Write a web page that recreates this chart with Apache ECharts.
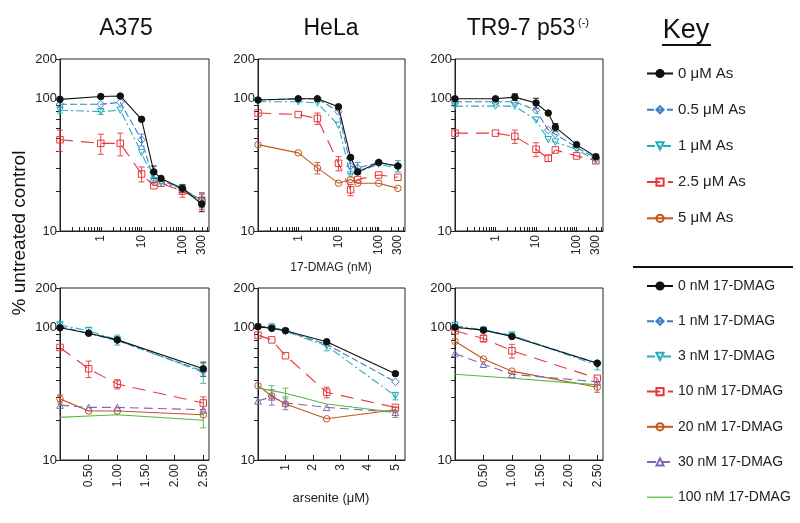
<!DOCTYPE html>
<html>
<head>
<meta charset="utf-8">
<script src="https://cdn.jsdelivr.net/npm/echarts@6/dist/echarts.min.js"></script>
<style>html,body{margin:0;padding:0;background:#fff}#c{width:800px;height:523px}</style>
</head>
<body>
<div id="c"></div>
<script>
// ---------- DATA ----------
// Top row: x = 17-DMAG (nM); 0 nM is plotted at 0.1 on the log axis
const topX = [0.1, 1, 3, 10, 20, 30, 100, 300];
const topNames = ['0 μM As', '0.5 μM As', '1 μM As', '2.5 μM As', '5 μM As'];
const A375_top_0   = [99, 104, 105, 70, 28, 25, 21, 16];
const A375_top_05  = [91, 91, 94, 49, 24, 24, 21, 17];
const A375_top_1   = [82, 80, 82, 39, 24, 23, 21, 17];
const A375_top_25  = [49, 46, 46, 27, 22, 23, 20, 17];
const HeLa_top_0   = [98, 100, 100, 87, 36, 28, 33, 31];
const HeLa_top_05  = [98, 100, 100, 80, 31, 30, 33, 31];
const HeLa_top_1   = [95, 95, 93, 63, 26.5, 28, 32, 30];
const HeLa_top_25  = [78, 76, 71, 32.5, 20.5, 24.5, 26.5, 25.5];
const HeLa_top_5   = [45, 39, 30, 23, 24.5, 23, 23, 21];
const TR_top_0     = [100, 100, 103, 93, 78, 61, 45, 36.5];
const TR_top_05    = [95, 95, 95, 82, 58, 54, 43, 35.5];
const TR_top_1     = [88, 88, 88, 69, 49, 47, 41.5, 34];
const TR_top_25    = [55, 55, 52, 41.5, 35.5, 41, 37, 34];

// error bar half-widths (estimated; 0 = not visible)
const A375_top_0_err  = [0, 0, 0, 0, 3, 0, 1.5, 2];
const A375_top_05_err = [0, 0, 0, 5, 0, 0, 0, 2];
const A375_top_1_err  = [4, 4, 0, 0, 0, 0, 0, 2];
const A375_top_25_err = [9, 8, 9, 3.5, 0, 0, 2, 2.5];
const HeLa_top_05_err = [0, 0, 0, 0, 4, 3, 0, 3];
const HeLa_top_25_err = [0, 0, 7, 4, 2, 0, 0, 0];
const HeLa_top_5_err  = [0, 0, 3, 0, 0, 0, 0, 0];
const TR_top_0_err    = [0, 0, 6, 8, 0, 4, 0, 0];
const TR_top_25_err   = [0, 0, 6, 5, 2, 0, 0, 0];

// Bottom row: x = arsenite (μM)
const botX = [0, 0.5, 1, 2.5];
const botXHeLa = [0, 0.5, 1, 2.5, 5];
const botNames = ['0 nM 17-DMAG', '1 nM 17-DMAG', '3 nM 17-DMAG', '10 nM 17-DMAG', '20 nM 17-DMAG', '30 nM 17-DMAG', '100 nM 17-DMAG'];
const A375_bot_0   = [100, 91, 81, 49];
const A375_bot_1   = [102, 91, 80, 47];
const A375_bot_3   = [105, 95, 81, 46];
const A375_bot_10  = [71, 49, 37.5, 27];
const A375_bot_20  = [29, 23.5, 23.5, 22];
const A375_bot_30  = [26, 25, 25, 24];
const A375_bot_100 = [21, 21.5, 22, 20];
const HeLa_bot_0   = [102, 99, 95, 78.5, 45];
const HeLa_bot_1   = [102, 102, 95, 75, 39];
const HeLa_bot_3   = [101, 101, 94, 73, 30.5];
const HeLa_bot_10  = [88, 81, 61.5, 32.5, 25];
const HeLa_bot_20  = [36.5, 30.5, 26.5, 20.5, 24];
const HeLa_bot_30  = [28, 30, 27, 25, 23];
const HeLa_bot_100 = [35, 33.5, 32, 26.5, 23];
const TR_bot_0     = [101, 96, 86, 54];
const TR_bot_1     = [101, 96, 87, 54];
const TR_bot_3     = [104, 96, 88, 52];
const TR_bot_10    = [95, 83, 67, 41.5];
const TR_bot_20    = [79, 58, 47, 35.5];
const TR_bot_30    = [64, 53, 44.5, 39];
const TR_bot_100   = [44.5, 43, 41.5, 37];

const A375_bot_0_err   = [0, 0, 0, 6];
const A375_bot_3_err   = [5, 6, 7, 8];
const A375_bot_10_err  = [0, 7, 3, 3];
const A375_bot_20_err  = [2, 0, 0, 0];
const A375_bot_100_err = [0, 0, 0, 2.5];
const HeLa_bot_3_err   = [0, 0, 0, 6, 2];
const HeLa_bot_10_err  = [0, 0, 0, 3, 0];
const HeLa_bot_30_err  = [0, 4, 3, 0, 2];
const HeLa_bot_100_err = [0, 3, 3, 0, 0];
const TR_bot_3_err     = [6, 0, 0, 4];
const TR_bot_10_err    = [0, 5, 8, 0];
const TR_bot_20_err    = [0, 0, 0, 3];

// Tick labels
const yLabelVals = [10, 100, 200];
const yTickVals = [10, 20, 30, 40, 50, 60, 70, 80, 90, 100, 200];
const topXLabelVals = [1, 10, 100, 300];
const topXTickVals = [0.2,0.3,0.4,0.5,0.6,0.7,0.8,0.9,1,2,3,4,5,6,7,8,9,10,20,30,40,50,60,70,80,90,100,200,300,400];
const botXLabelVals = [0.5, 1, 1.5, 2, 2.5];
const helaXLabelVals = [1, 2, 3, 4, 5];

// ---------- STYLES ----------
const FONT = 'Liberation Sans, Arial, Helvetica, sans-serif';
const CLEAR = 'rgba(255,255,255,0)';
const S = {
  k:  {color:'#111111', symbol:'circle',   fill:'#111111', dash:'solid', rot:0},
  b:  {color:'#3f7dc6', symbol:'diamond',  fill:CLEAR, dash:[7,3], rot:0},
  t:  {color:'#27aeb9', symbol:'triangle', fill:CLEAR, dash:[8,3,2,3], rot:180},
  r:  {color:'#e8363c', symbol:'rect',     fill:CLEAR, dash:[13,8], rot:0},
  o:  {color:'#c4561f', symbol:'circle',   fill:CLEAR, dash:'solid', rot:0},
  p:  {color:'#8466b6', symbol:'triangle', fill:CLEAR, dash:[9,5], rot:0},
  g:  {color:'#4fbb3e', symbol:'none',     fill:CLEAR, dash:'solid', rot:0}
};

const series = [];
function mk(name, xs, ys, st, ax, err) {
  series.push({
    name: name, type: 'line', xAxisIndex: ax, yAxisIndex: ax,
    data: xs.map((x, i) => [x, ys[i]]),
    symbol: st.symbol, symbolSize: st.symbol === 'diamond' ? 7.5 : 6.5, symbolRotate: st.rot,
    showSymbol: st.symbol !== 'none',
    lineStyle: {color: st.color, width: 1.1, type: st.dash},
    itemStyle: {color: st.fill, borderColor: st.color, borderWidth: 1},
    emphasis: {disabled: true}, silent: true, animation: false,
    z: st === S.k ? 5 : 3
  });
  if (err) {
    const d = [];
    xs.forEach((x, i) => { if (err[i] > 0) d.push([x, ys[i] - err[i], ys[i] + err[i]]); });
    series.push({
      type: 'custom', xAxisIndex: ax, yAxisIndex: ax, data: d, silent: true, animation: false, z: 2,
      renderItem: function (params, api) {
        const x = api.value(0);
        const a = api.coord([x, api.value(1)]);
        const b = api.coord([x, api.value(2)]);
        const w = 3;
        const ls = {stroke: st.color, lineWidth: 0.9};
        return {type: 'group', children: [
          {type: 'line', shape: {x1: a[0], y1: a[1], x2: b[0], y2: b[1]}, style: ls},
          {type: 'line', shape: {x1: a[0] - w, y1: a[1], x2: a[0] + w, y2: a[1]}, style: ls},
          {type: 'line', shape: {x1: b[0] - w, y1: b[1], x2: b[0] + w, y2: b[1]}, style: ls}
        ]};
      }
    });
  }
}

mk(topNames[0], topX, A375_top_0, S.k, 0, A375_top_0_err);
mk(topNames[1], topX, A375_top_05, S.b, 0, A375_top_05_err);
mk(topNames[2], topX, A375_top_1, S.t, 0, A375_top_1_err);
mk(topNames[3], topX, A375_top_25, S.r, 0, A375_top_25_err);
mk(topNames[0], topX, HeLa_top_0, S.k, 1);
mk(topNames[1], topX, HeLa_top_05, S.b, 1, HeLa_top_05_err);
mk(topNames[2], topX, HeLa_top_1, S.t, 1);
mk(topNames[3], topX, HeLa_top_25, S.r, 1, HeLa_top_25_err);
mk(topNames[4], topX, HeLa_top_5, S.o, 1, HeLa_top_5_err);
mk(topNames[0], topX, TR_top_0, S.k, 2, TR_top_0_err);
mk(topNames[1], topX, TR_top_05, S.b, 2);
mk(topNames[2], topX, TR_top_1, S.t, 2);
mk(topNames[3], topX, TR_top_25, S.r, 2, TR_top_25_err);

mk(botNames[0], botX, A375_bot_0, S.k, 3, A375_bot_0_err);
mk(botNames[1], botX, A375_bot_1, S.b, 3);
mk(botNames[2], botX, A375_bot_3, S.t, 3, A375_bot_3_err);
mk(botNames[3], botX, A375_bot_10, S.r, 3, A375_bot_10_err);
mk(botNames[4], botX, A375_bot_20, S.o, 3, A375_bot_20_err);
mk(botNames[5], botX, A375_bot_30, S.p, 3);
mk(botNames[6], botX, A375_bot_100, S.g, 3, A375_bot_100_err);
mk(botNames[0], botXHeLa, HeLa_bot_0, S.k, 4);
mk(botNames[1], botXHeLa, HeLa_bot_1, S.b, 4);
mk(botNames[2], botXHeLa, HeLa_bot_3, S.t, 4, HeLa_bot_3_err);
mk(botNames[3], botXHeLa, HeLa_bot_10, S.r, 4, HeLa_bot_10_err);
mk(botNames[4], botXHeLa, HeLa_bot_20, S.o, 4);
mk(botNames[5], botXHeLa, HeLa_bot_30, S.p, 4, HeLa_bot_30_err);
mk(botNames[6], botXHeLa, HeLa_bot_100, S.g, 4, HeLa_bot_100_err);
mk(botNames[0], botX, TR_bot_0, S.k, 5);
mk(botNames[1], botX, TR_bot_1, S.b, 5);
mk(botNames[2], botX, TR_bot_3, S.t, 5, TR_bot_3_err);
mk(botNames[3], botX, TR_bot_10, S.r, 5, TR_bot_10_err);
mk(botNames[4], botX, TR_bot_20, S.o, 5, TR_bot_20_err);
mk(botNames[5], botX, TR_bot_30, S.p, 5);
mk(botNames[6], botX, TR_bot_100, S.g, 5);

// ---------- LAYOUT ----------
const cols = [{left: 60, width: 149}, {left: 258, width: 147}, {left: 455, width: 148}];
const rows = [{top: 59, height: 172}, {top: 288, height: 172}];
const grids = [];
rows.forEach(r => cols.forEach(c => grids.push({left: c.left, top: r.top, width: c.width, height: r.height,
  show: true, borderColor: '#222', borderWidth: 1, backgroundColor: 'transparent', containLabel: false})));

const axLine = {show: true, lineStyle: {color: '#222', width: 1}};
const labelStyle = {color: '#222', fontFamily: FONT, fontSize: 12};

function yAxis(i) {
  return {gridIndex: i, type: 'log', logBase: 10, min: 10, max: 200,
    axisLine: axLine, splitLine: {show: false},
    axisTick: {show: true, inside: false, length: 4, lineStyle: {color: '#222'}, customValues: yTickVals},
    axisLabel: {margin: 3, fontSize: 13, color: '#222', fontFamily: FONT, customValues: yLabelVals}};
}
function xTop(i) {
  return {gridIndex: i, type: 'log', logBase: 10, min: 0.1, max: 450,
    axisLine: axLine, splitLine: {show: false},
    axisTick: {show: true, inside: true, length: 4, lineStyle: {color: '#222'}, customValues: topXTickVals},
    axisLabel: Object.assign({}, labelStyle, {rotate: 90, margin: 4, customValues: topXLabelVals})};
}
function xBot(i, maxV, labels, fmt) {
  return {gridIndex: i, type: 'value', min: 0, max: maxV,
    axisLine: axLine, splitLine: {show: false},
    axisTick: {show: true, inside: true, length: 5, lineStyle: {color: '#222'}, customValues: labels},
    axisLabel: Object.assign({}, labelStyle, {rotate: 90, margin: 4, customValues: labels, formatter: fmt})};
}
const f2 = v => Number(v).toFixed(2);
const f0 = v => String(Math.round(v));

const xAxes = [xTop(0), xTop(1), xTop(2),
  xBot(3, 2.6, botXLabelVals, f2), xBot(4, 5.35, helaXLabelVals, f0), xBot(5, 2.6, botXLabelVals, f2)];
const yAxes = [0,1,2,3,4,5].map(yAxis);

const legendCommon = {orient: 'vertical', left: 646, itemWidth: 26, itemHeight: 9, itemGap: 21.2,
  selectedMode: false, padding: 0, textStyle: {fontFamily: FONT, color: '#222', lineHeight: 14}};

const botLegendData = botNames.map((n, i) => i === 6
  ? {name: n, icon: 'path://M0,0L26,0L26,1.2L0,1.2Z', itemStyle: {color: S.g.color, borderWidth: 0}}
  : n);

const option = {
  animation: false,
  backgroundColor: '#ffffff',
  grid: grids,
  xAxis: xAxes,
  yAxis: yAxes,
  legend: [
    Object.assign({}, legendCommon, {top: 66, data: topNames, textStyle: Object.assign({}, legendCommon.textStyle, {fontSize: 15})}),
    Object.assign({}, legendCommon, {top: 279, data: botLegendData, textStyle: Object.assign({}, legendCommon.textStyle, {fontSize: 14})})
  ],
  graphic: [
    {type: 'text', style: {text: 'A375', x: 126, y: 40, fontSize: 23, fontFamily: FONT, fill: '#111', align: 'center', verticalAlign: 'bottom'}},
    {type: 'text', style: {text: 'HeLa', x: 331, y: 40, fontSize: 23, fontFamily: FONT, fill: '#111', align: 'center', verticalAlign: 'bottom'}},
    {type: 'text', style: {text: 'TR9-7 p53', x: 521, y: 40, fontSize: 23, fontFamily: FONT, fill: '#111', align: 'center', verticalAlign: 'bottom'}},
    {type: 'text', style: {text: '(-)', x: 578, y: 28, fontSize: 11, fontFamily: FONT, fill: '#111', align: 'left', verticalAlign: 'bottom'}},
    {type: 'text', style: {text: 'Key', x: 686, y: 44, fontSize: 27, fontFamily: FONT, fill: '#111', align: 'center', verticalAlign: 'bottom'}},
    {type: 'line', shape: {x1: 662, y1: 45, x2: 711, y2: 45}, style: {stroke: '#111', lineWidth: 2}},
    {type: 'line', shape: {x1: 633, y1: 267, x2: 793, y2: 267}, style: {stroke: '#111', lineWidth: 2}},
    {type: 'text', rotation: Math.PI / 2, x: 20, y: 233, style: {text: '% untreated control', x: 0, y: 0, fontSize: 19, fontFamily: FONT, fill: '#111', align: 'center', verticalAlign: 'middle'}},
    {type: 'text', style: {text: '17-DMAG (nM)', x: 331, y: 268, fontSize: 12, fontFamily: FONT, fill: '#222', align: 'center', verticalAlign: 'middle'}},
    {type: 'text', style: {text: 'arsenite (μM)', x: 331, y: 498, fontSize: 13, fontFamily: FONT, fill: '#222', align: 'center', verticalAlign: 'middle'}}
  ],
  series: series
};

const chart = echarts.init(document.getElementById('c'), null, {renderer: 'canvas'});
chart.setOption(option);
</script>
</body>
</html>
